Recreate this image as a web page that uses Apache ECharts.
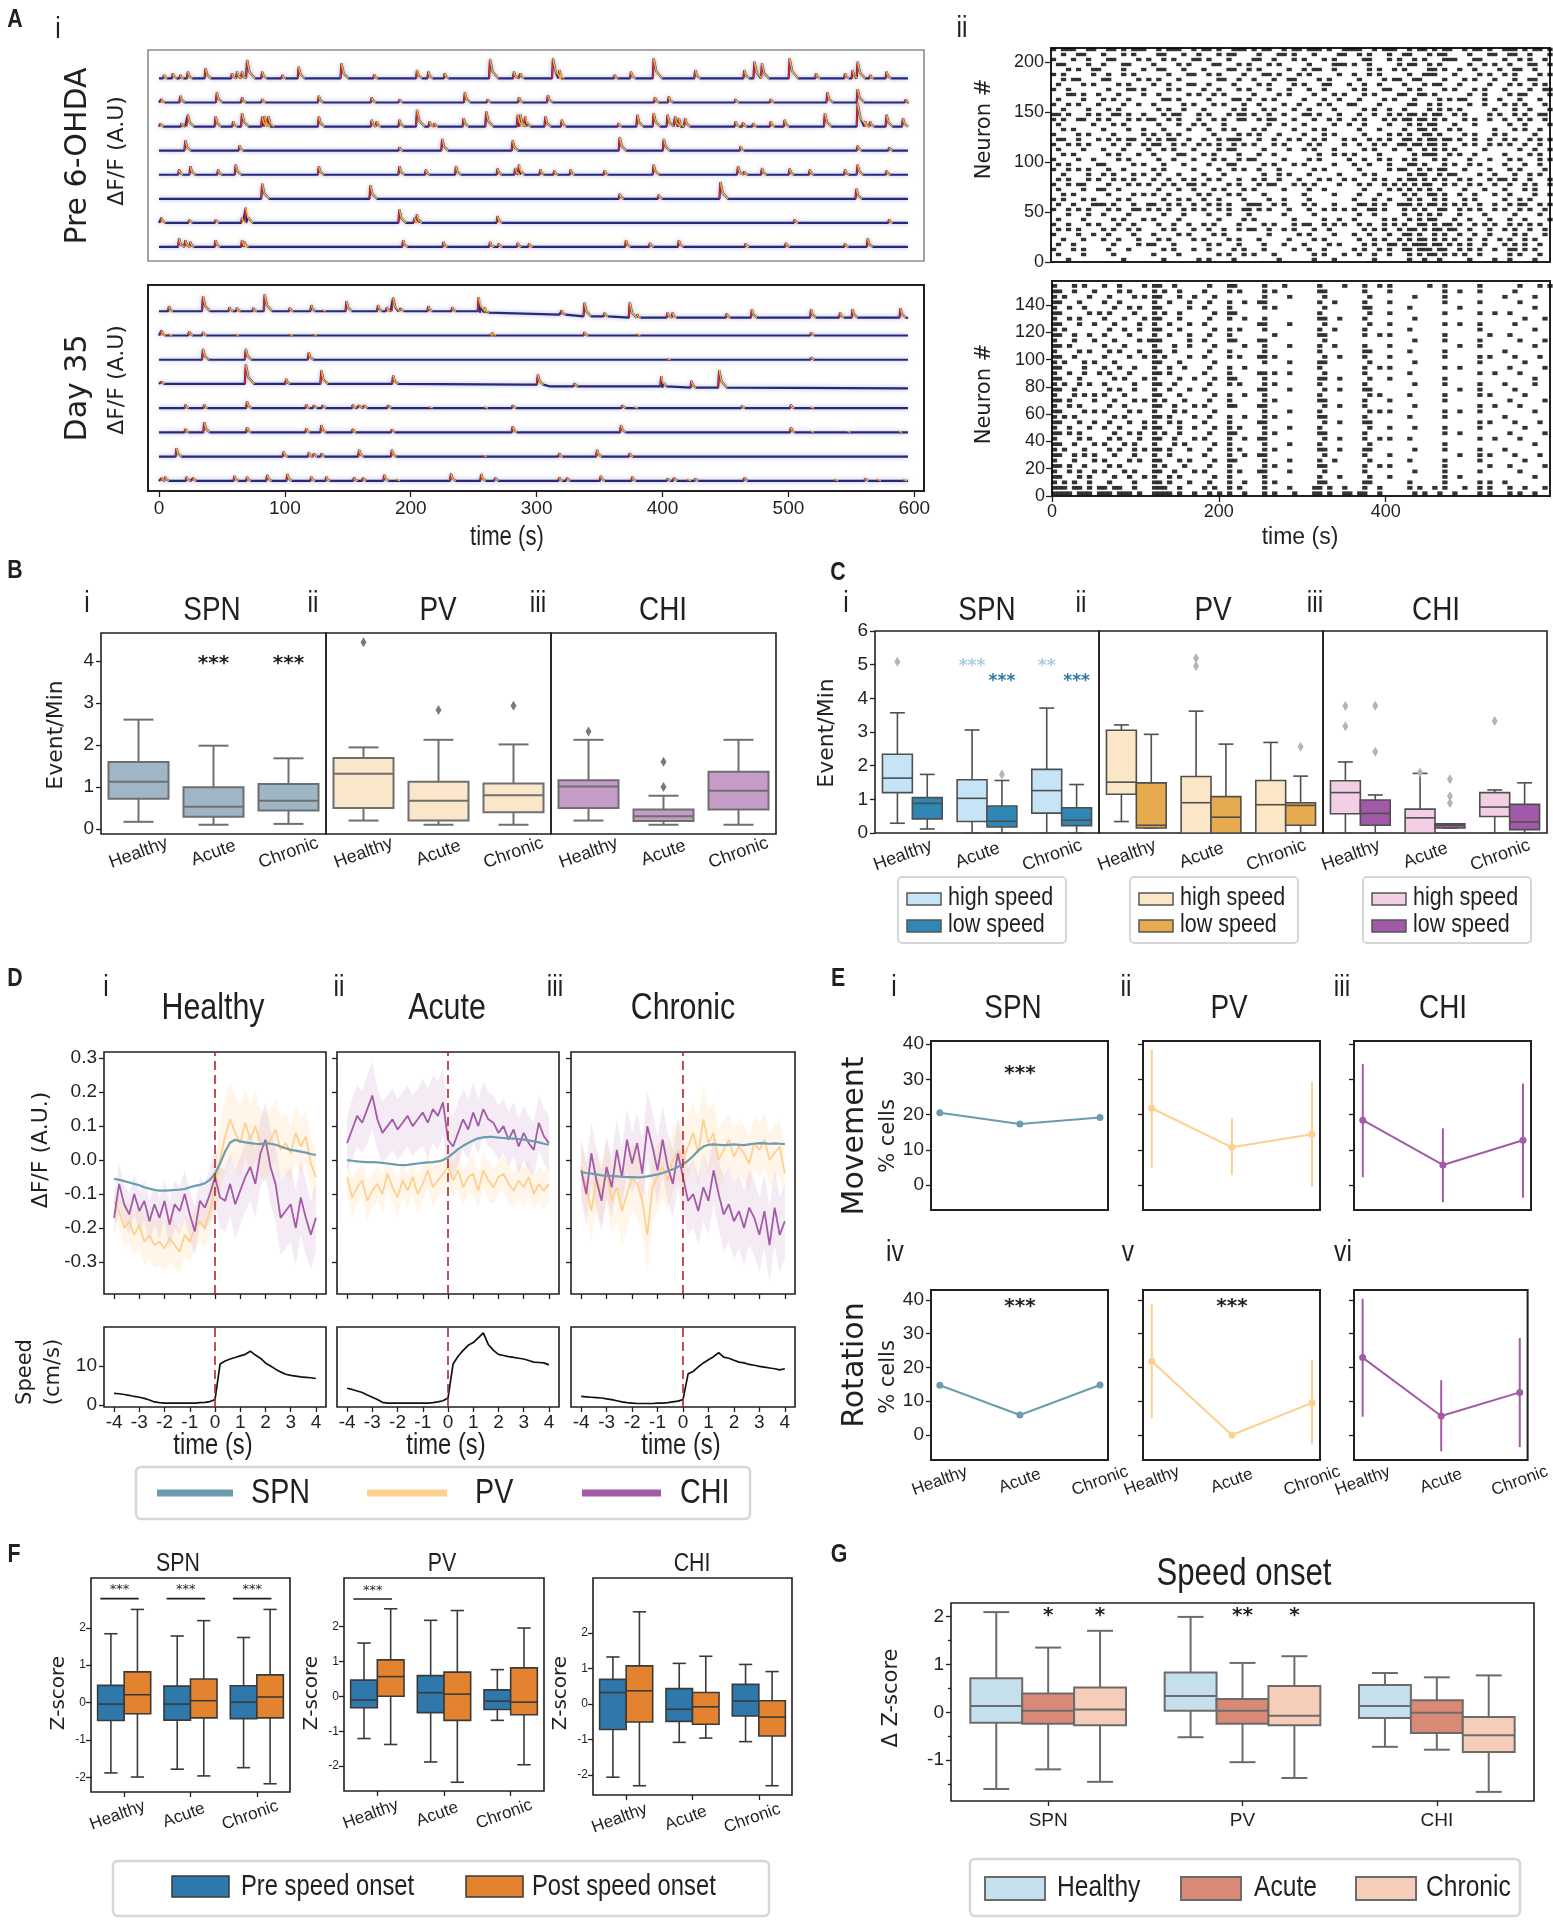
<!DOCTYPE html>
<html>
<head>
<meta charset="utf-8">
<title>Striatal activity figure</title>
<script src="https://cdn.jsdelivr.net/npm/echarts@6.0.0/dist/echarts.min.js"></script>
<style>
  html, body { margin: 0; padding: 0; background: #fff; }
  #fig { width: 1553px; height: 1920px; }
</style>
</head>
<body>
<div id="fig"></div>
<script>
// ---------- fonts / colours ----------
var FN = '"Liberation Sans", Arial, sans-serif';   // drawn narrow with scaleX for titles
var FW = '"DejaVu Sans", Verdana, sans-serif';
var FA = '"Liberation Sans", Arial, sans-serif';
var NARROW = 0.82;
var INK = '#231f20';
var SPN_C = '#6c9cad', PV_C = '#fdd08f', CHI_C = '#a35aa7';
var NAVY = '#272a7c', SPIKE_RED = '#e3261b', SPIKE_ORG = '#f7b22b';

var CATS = ['Healthy', 'Acute', 'Chronic'];
var CELLS = ['SPN', 'PV', 'CHI'];

// ---------- A i : calcium traces, spikes as [time s, height] ----------
var PRE_1 = [[4,10],[11,15],[17,10],[23,20],[37,30],[58,15],[62,20],[66,20],[70,55],[82,20],[98,10],[111,35],[145,45],[171,12],[205,25],[214,20],[227,15],[263,58],[282,20],[287,15],[313,60],[318,25],[362,10],[375,20],[393,60],[426,25],[465,25],[473,50],[479,45],[501,60],[522,15],[545,15],[551,25],[555,50],[565,10],[578,20]];
var PRE_2 = [[2,10],[17,20],[46,30],[66,15],[82,10],[127,20],[169,15],[191,8],[243,30],[261,8],[286,15],[309,22],[394,15],[405,18],[458,10],[486,10],[531,30],[555,40],[593,8]];
var PRE_3 = [[1,8],[18,10],[23,35],[45,30],[59,15],[66,40],[82,30],[84,30],[87,30],[127,30],[169,20],[173,15],[191,20],[205,50],[215,15],[219,10],[242,25],[260,45],[285,35],[287,35],[291,30],[307,30],[320,20],[365,10],[380,35],[393,40],[404,35],[410,30],[413,25],[418,25],[458,15],[464,12],[472,10],[486,15],[497,20],[529,40],[555,70],[561,15],[565,15],[578,35],[591,25]];
var PRE_4 = [[21,30],[64,15],[191,10],[225,35],[281,30],[366,40],[401,35],[462,12],[555,15],[580,8]];
var PRE_5 = [[16,15],[25,25],[47,15],[61,30],[127,25],[191,25],[212,15],[236,25],[269,18],[283,20],[286,30],[303,15],[314,12],[327,15],[354,12],[393,30],[460,25],[465,10],[479,20],[501,18],[517,15],[545,15],[555,30],[578,12]];
var PRE_6 = [[82,45],[168,40],[366,15],[397,12],[446,50],[554,30]];
var PRE_7 = [[2,15],[24,8],[45,8],[66,15],[69,45],[191,40],[203,15],[205,25],[269,20],[505,10],[580,10]];
var PRE_8 = [[16,25],[21,20],[25,15],[45,20],[66,20],[68,15],[194,20],[226,15],[263,15],[270,10],[285,12],[294,10],[371,20],[390,12],[413,20],[466,10],[498,12],[545,10],[563,25]];

var DAY_1 = [[8,15],[35,45],[56,12],[62,10],[75,10],[84,50],[104,10],[121,18],[130,5],[149,30],[174,18],[181,12],[186,40],[192,8],[214,15],[233,12],[254,42],[259,15],[320,12],[338,40],[354,10],[374,45],[380,10],[404,15],[408,15],[451,12],[471,25],[518,25],[541,15],[551,25],[589,28]];
var DAY_1_DRIFT = [[0,0],[190,0],[255,-4],[318,-10],[338,-15],[374,-19],[595,-20]];
var DAY_2 = [[2,15],[8,5],[24,12],[35,10],[61,4],[104,4],[123,4],[263,5],[265,8],[338,10],[380,5],[518,8]];
var DAY_3 = [[35,32],[69,32],[119,22],[404,4],[518,6]];
var DAY_4 = [[2,6],[69,58],[101,15],[129,40],[186,25],[301,30],[330,8],[399,30],[423,20],[445,52]];
var DAY_4_DRIFT = [[0,0],[290,-2],[310,-7],[400,-11],[595,-13]];
var DAY_5 = [[21,10],[36,10],[70,20],[117,10],[123,8],[130,8],[154,10],[159,8],[163,8],[182,8],[215,5],[259,4],[281,8],[368,8],[378,4],[463,6],[502,10],[518,4]];
var DAY_6 = [[21,10],[36,30],[70,15],[117,12],[129,22],[154,10],[185,8],[281,18],[367,22],[502,15],[518,4],[547,4],[588,4]];
var DAY_7 = [[14,25],[99,15],[119,12],[123,8],[129,8],[159,20],[185,20],[258,4],[318,10],[348,20],[374,10]];
var DAY_8 = [[2,8],[5,12],[22,12],[27,8],[60,15],[70,12],[86,18],[102,20],[121,12],[133,12],[155,10],[162,8],[179,18],[189,5],[232,22],[256,20],[267,8],[318,10],[324,8],[351,15],[376,12],[404,6],[409,8],[420,5],[426,6],[465,8],[537,5],[561,6],[571,5],[592,4]];
var TRACE_STEP = 72;
var A_TIME_TICKS = [0, 100, 200, 300, 400, 500, 600];

// ---------- A ii : rasters, one row per neuron block (top row first), one char per 6 s bin ----------
var RASTER_TOP = [
"#.###..##. .##.#.###. .#.###..#. ##.#..###. #.##..#.## .###.#..## ##..#.###. .#.##.#.## ..#.##.#.. ###.#.##.#",
"..#..##... #...#.#... .##...#..# ...#.##... .#...##.#. ..#....##. .#.#...#.. ##...#.##. ...#...##. .##..#...#",
"#...#..#.. .##....#.# ..#.#...## .#...#.... ##..#...#. #...#.#... ..##...#.# ..#.#...## #...##.... #..#.#..#.",
".##....#.. #...##.... #....#.#.. ..##...#.# ...#.#.... .#....###. #..#.....# .##..#.#.. ...#..#.#. .#...##..#",
"...#.#..## ....#...#. .##...#... #....##..# .#.....#.. #.##..#... ...#.#..#. #....##.#. .#..#....# ..##..#...",
"#.#.....#. .#..#.#... ...#...##. .#.#....#. ..##.#...# .#.....#.. #..#.#.... .#..###... #....#.#.. #.#....#.#",
"..#.##.... ##.....#.# .#...#.... ...##..#.. #...#..##. ...#.#.... .#....#.## ..##....#. ..#.#...#. ..#..##...",
".#....#.#. ...#.#.... #..#...##. .#....#... .#.#....#. #...##...# ..#..#.... #...#.##.. .#.....#.. .#.#..#.#.",
"#..#...... .#...##.#. ...#.#.... #..#...#.# ...#...#.. .#..#..... #.#...##.. .#.#....#. #...#.#... #....#..##",
"...##.#..# ...#....#. .#.....#.# ..#.#..... #....#.#.. ..#...#.#. ..#.#....# #..##.#... ...#..#... .#.##....#",
".#....#... #.#..#.... ..##.#.... .#....##.# ..#.#..... #...#..#.. .#....#.#. ..#....#.# .##...#..# ...#...#..",
"#..#.#...# ....#..#.. #.....#.#. ..#.#...#. .#....#..# ...#.#...# #....#.... .##..#.#.. ...#..#... #.#.#...#.",
"..#....#.. .#.#...... .#.#..#... #.....#.#. ..#.#...#. .#....#... ..#.#..#.. #....#.#.# .#......#. ..#..#...#",
"##.#...#.# ..##.#..#. ..#.##...# .#...#.##. #..#..#... ##.#...#.. .#..#..#.# .##.#.##.. #.#....#.# ..#.#..##.",
"#.#..##..# .#...#.#.# #..#.#...# ..#.#..##. .#.##...#. ..#..#.#.. #.#...#.#. ##.##.#.#. ..#.#..#.. #..#.#..#.",
".#......#. ..#.#..... .#...#..#. #...#..... ...#..#... #.....#..# ..#....#.. .#.#.##... #...#..... .#..#....#",
"..#.#..... #....#..#. ..#....#.. .#..#.#... #.#.....#. ..#.#..... .#...#.... #..##.#..# .#......#. ..#.#..#..",
"#....#.#.. ..#.....#. #..#.#.... ..#....#.# .#...#.... #...#.#... ..#....#.# .#..##.#.. ..#.#...#. #.....#...",
".##..#...# .#.#.##..# .#.##..#.. #..#.###.. .#..#..#.# ..#.#...#. #..#.#.#.. ##.#.##.## .#..#..#.. #.#..#.#.#",
"#..#.#.#.. ..#..#..#. ##..#.#..# .#.#..#.#. #...#.#... .#.#....#. .#..#.#..# #.##.##.#. ..#.#..#.# .#..#..#..",
".#....#... #...#....# ..#.#...#. ...#.##... ..#....#.. #.#...#... ..#.#...#. .#..#.#.#. #.....#... ...#..#..#",
"..#.#..... .#.#...#.. #....##... #.#....#.. .#..#..... ...#..#.#. #....#.... ..#.###..# .#..#..... #....#.#..",
"#....#..#. ...#.#.... .#..#...#. ..#.#..#.# #.....#... .#.#.....# ..#..#.#.. #.#...#.#. ...#...#.. .#.#...#.#",
".#.#.....# #.....#.#. ..#...#... .#...##... ..#.#...#. #.....#... #..#...#.. .##.#...#. #..#.#.... #...#..#..",
"#..#.#.#.. .#..#..... #.#.....#. ...#..#.#. .#...#.... ..#.#..... .#.....#.# #..#.#.##. ..#....#.. .#.#....#.",
"..#....#.. #.#...#.#. .#...#.... #...#..... ..#..#.#.. .#.....#.. ..#.#..... .#.##..#.# #....#..#. ..#..#.#..",
".#.#...#.# ..#.#.#... #..#..#.#. .#.#...#.. #.#..#...# ...#.#..#. #...#.#..# .##.#.#.#. .#.#...#.# #.#..#...#",
"#..#.##... .#...#.#.# ..#.#..##. #....#.#.. .#.##...#. #.#....#.. .#.#..#.#. #.#.##..#. #..#.#..#. .#..#.#..#",
".#....#..# #..#...... .#...#..#. ..#.#...#. #.....#... .#..#..... ..#....#.# .#.#.#.#.. ..#...#... #...#.#...",
"..#.#..... .#....#.#. #..#.....# .#...#.#.. ..#....... #.....#... .#...#.... #.#..##.#. .#..#...#. .#....#..#",
"#.#...#.#. ...#.#.... ..#..#.#.. #..#....#. ...#..#... .#........ #...#..#.. .#.#..#.#. ..#.#..... #..#.#....",
".#..#...## #.#...#..# #..#.#..#. .#.#.#...# ##..#.#... #.#...#... .##.#.#..# ##.#.##.#. #.#..#..#. .#.##..#.#",
"#..#.#.#.. .#.#..##.# .#.#..#.#. #..#.#..## .#.#...#.. .#..#.#.#. #..##.#... #.#.#..##. .#.#.#..#. #..#.#..#.",
"...#...#.. #....#.... ..#...#... .#...#...# ......#... ..#....... .#..#..... #..#.#.#.. .#....#... ..#....#..",
".#....#... ..#.#...#. #....#.... ...#....#. #.......#. ....#..#.. #.....#.#. .#.#.##... #..#...#.. .#..#....#",
"#..#...#.# ...#..#... .#..#..#.. #.#....#.. ..#.#...#. ##..#.#.#. .#.#..#.#. #..##.#.## .#..#.#.#. .#.#.#.#..",
".#.#.#.... #.#..#.#.. ..#.#...#. .#..#..#.# #..#..#.#. ..#..#.... ..#.#.#..# .##.#.##.# #..#...#.. #.#..#..#.",
"#....#..#. .#....#... #....#.#.. ..#.#..... ...#.....# .#....#... #..#...#.. ##.#..#.#. .#..#..#.. ..#.#...#.",
"..#...#... #..#...#.. .#.#....#. #....#.#.. .#.....#.. ..#.#..... .#..#.#..# .#.##.#.#. #..#..#..# .#..#.#...",
".#..#..... ..#....#.# #...#..... .#.#...#.. ..#...#... #....#.#.. ..#.#..##. #.###.##.# .#.#..#... #.#.#..#..",
"#...#.#... .#...#.... ..#.#...#. .#....#.#. ..#.....#. .#..#..... #.#..#.#.. ##.###.##. .#.#.#..#. .##.#.#...",
".#....#... ..#....... #....#.... ...#.#..#. #...#..... ..#.#...#. .#..#..#.. .#.#.##.#. #.#..#.... .#.#...#..",
"...#...... ....#..... ..#......# .#....#... .....#.... ..#...#... ....#..... .#..#..#.. ...#....#. .#....#..."
];
var RASTER_BOTTOM = [
"##.#...#.# .##..#.#.. #.#...#.#. ...#.#.#.. .##.#..... ...#..#... ..##...... ..#....... .#...#.... .#..#.#...",
"#...#.#... #..#....#. ##..#..... .#...##... ..#...#... ...#....#. ..#..#.#.. .....#..#. .....#.... ...#...#.#",
"##..#...#. ...#.#.... #.#..#.... #....#.#.. ..#.#..... ...##..... ..#....#.. ........#. .#...#.... ..#.......",
"#.#....#.. .#....#.#. ##...#..#. ..#....... ..#....#.. ....#..... ...#...... ..#.....#. .......... #.....#...",
"##...#.... #..#...... #..#...#.. .#...#..#. .##....... ...#..#... ..#....#.. ........#. .....#.... ...#......",
"#..#..#... ..#..#.#.. ##.....#.. #....#.... ..#.#..... ....#..... ..##...... .#........ .#........ ......#...",
"##.....#.# .#....#... #.#..#.... ..#..##... .......... ...#...... ...#...#.. ........#. .....#..#. .#........",
"#..#.#.... #...#...#. ##...#.... .#...#..#. ..#....... ...##..#.. ..#....... ..#....... .......... ....#...#.",
"##...#..#. ..#....#.. #..#...#.. #......... .##....#.. ....#..... ...#...#.. ........#. .#...#.... ..#.......",
"#.#....... .#..#..#.. ##...#.... ..#..#.#.. ..#....... ...#..#... ..#....... .#........ .....#.... ......#...",
"##..#..#.. #....#.... #..#...#.. .#...#.... ....#..... ...##..... ..#..#.#.. ........#. .......#.. .#........",
"#...#...#. ..#....#.# ##.....#.. #....##... .##....... ....#..... .......... ..#.....#. .....#.... ...#....#.",
"##.#...... #...#..... #...#..#.. ..#.....#. ..#....#.. ...#..#... ..#....#.. .......... .#...#.... ......#...",
"#....#.#.. .#.#...#.. ##..#..... .#...#.... ..#....... ...#...... ..##...... .#......#. .......... #.........",
"##..#..... #....#..#. #.#....#.. #....#.#.. .##.#..... ....#..#.. ..#....#.. ........#. .....#.#.. ..#....#..",
"#.#...#.#. ..#....... ##...#.... ..#....... ..#....#.. ...##..... ...#...... ..#....... .....#.... ....#.....",
"##....#... #..#..#... #..#..#... .#...#..#. .......... ...#...... ..#..#.#.. ........#. .#........ .#......#.",
"#..#..#..# .#...#.... ##.#...... #....#.... .##.#..#.. ....#..... ..#....... .#........ .....#..#. ...#......",
"##...#.... ..#.#...#. #....#..#. ..#..##... ..#....... ...##..#.. ...#...#.. ........#. .......... ......#...",
"#.#..#.#.. #.....#... ##..#..... .#...#.#.. ..#.#..... ...#...... ..#....... ..#.....#. .....#.... #.....#...",
"##..#..... .#.#..#... #..#...#.. #......... .##....#.. ....#..#.. ..##...... .......... .#...#.... ..#.......",
"#...#.#.#. #...#..... ##...#.... ..#..#..#. ..#....... ...#...... ...#.#.... .#......#. .....#.#.. ....#.....",
"##.#....#. ..#...#.#. #.#...#... .#...#.... ..#.#..... ...##..... ..#....#.. ........#. .......... .#......#.",
"#..#.#.... .#..#..... ##..#...#. #....##... .##....... ....#..#.. ..#....... ..#....... .....#..#. ...#......",
"##....#.#. #....#.#.. #...#.#... ..#....... ..#....#.. ...#...... ...#.#.#.. ........#. .#...#.... ......#...",
"#.#.#..... ..#.#..... ##.#....#. .#...#..#. ..#.#..... ...##..... ..#....... .#......#. .......... #.........",
"##...#..#. .#...#..#. #..#.#.... #....#.... .##....... ....#..#.. ..##...... .......... .....#.#.. ..#....#..",
"#..#...#.. #..#....#. ##...#..#. ..#..#.#.. ..#....#.. ...#...... ...#...#.. ..#.....#. .....#.... ....#.....",
"##.#.#.... ..#..#.#.. #.#..#.... .#...##... ..#.#..... ...##..... ..#....... ........#. .#........ .#......#.",
"#....#.#.. .#.#...#.. ##..#...#. #....#..#. .##....... ....#..#.. ..#..#.#.. .#........ .....#..#. ...#......",
"##..#...#. #...#.#... #...#.#... ..#..#.... ..#....#.. ...#...... ...#...... ........#. .......... ......#...",
"#.#...#... .#.#..#.#. ##.#...#.. .#...#.#.. ..#.#..... ...##..#.. ..##...... ..#.....#. .....#.... #.........",
"##..#.#.#. ..#...#... #..#...... #....#..#. .##....... ....#..... ..#....#.. .......... .#...#.#.. ..#....#..",
"#...#...#. #....#.#.. ##...#.#.. ..#..##... ..#....#.. ...#..#... ...#...... .#......#. .....#.... ....#.....",
"##.#..#... .#.#...... #.#...#... .#...#.... ..#.#..... ...##..... ..#..#.#.. ........#. .......#.. .#......#.",
"#..#.#..#. #...#.#... ##..#...#. #....#.#.. .##....#.. ....#..... ..#....... ..#.....#. .....#.... ...#......",
"##...#.#.. ..#..#..#. #..#.#.... ..#..#.... ..#....... ...#...#.. ...#...#.. ........#. .#........ ......#...",
"#.#.#..#.. .#....#... ##.#...#.. .#...#..#. ..#.#..... ...##..... ..##...... .#......#. .....#.#.. #.........",
"###.##.#.# #.##..#... ###..#.... #.#..#.#.. ..#....#.. ..##.#..#. ..#..#.... .#.#..#.#. ..#..#.#.. .#..#...#.",
"####.###.# ##.###.#.. ####.#..#. .#.#.#..#. ..#.#...#. ..##.#..## .##..#.... ..#.#..#.. #....#.#.. .#.#..#..."
];
var RASTER_BIN_S = 6;
var NEURON_TICKS_TOP = [0, 50, 100, 150, 200];
var NEURON_TICKS_BOTTOM = [0, 20, 40, 60, 80, 100, 120, 140];

// ---------- B : events / min  [min, q1, median, q3, max] ----------
var B_SPN = [[0.17,0.72,1.12,1.59,2.60],[0.10,0.29,0.53,0.99,1.98],[0.12,0.44,0.67,1.07,1.68]];
var B_PV  = [[0.20,0.50,1.31,1.69,1.94],[0.10,0.20,0.67,1.12,2.12],[0.10,0.40,0.80,1.08,2.01]];
var B_CHI = [[0.20,0.50,1.01,1.16,2.12],[0.10,0.19,0.30,0.46,0.79],[0.10,0.46,0.91,1.36,2.12]];
var B_OUT_SPN = [];
var B_OUT_PV  = [[0,4.44],[1,2.83],[2,2.93]];
var B_OUT_CHI = [[0,2.32],[1,1.60],[1,1.00]];
var B_STARS_SPN = [[1,3.92,'***'],[2,3.92,'***']];

// ---------- C : high / low speed ----------
var C_SPN_HI = [[0.29,1.20,1.63,2.34,3.57],[0,0.34,1.03,1.58,3.06],[0,0.59,1.26,1.89,3.71]];
var C_SPN_LO = [[0.12,0.42,0.88,1.05,1.74],[0,0.18,0.35,0.80,1.56],[0,0.22,0.38,0.75,1.44]];
var C_PV_HI  = [[0.34,1.15,1.51,3.05,3.21],[0,0,0.90,1.68,3.62],[0,0,0.84,1.56,2.69]];
var C_PV_LO  = [[0.15,0.15,0.23,1.49,2.93],[0,0,0.47,1.08,2.64],[0,0.23,0.82,0.90,1.69]];
var C_CHI_HI = [[0,0.57,1.20,1.55,2.11],[0,0,0.45,0.71,1.77],[0,0.49,0.77,1.20,1.28]];
var C_CHI_LO = [[0,0.23,0.58,0.98,1.13],[0.15,0.15,0.23,0.27,0.27],[0,0.10,0.33,0.85,1.49]];
var C_OUT_SPN_HI = [[0,5.09]];
var C_OUT_SPN_LO = [[1,1.74]];
var C_OUT_PV_HI  = [[1,5.19],[1,4.96]];
var C_OUT_PV_LO  = [[2,2.56]];
var C_OUT_CHI_HI = [[0,3.77],[0,3.17],[1,1.80],[2,3.33]];
var C_OUT_CHI_LO = [[0,3.78],[0,2.41],[1,1.60],[1,1.09],[1,0.89]];
var C_STARS_HI = [[1,4.94,'***'],[2,4.94,'**']];
var C_STARS_LO = [[1,4.51,'***'],[2,4.51,'***']];

// ---------- D : onset-aligned dF/F and speed ----------
var TIME_D = [-4,-3.8,-3.6,-3.4,-3.2,-3,-2.8,-2.6,-2.4,-2.2,-2,-1.8,-1.6,-1.4,-1.2,-1,-0.8,-0.6,-0.4,-0.2,0,0.2,0.4,0.6,0.8,1,1.2,1.4,1.6,1.8,2,2.2,2.4,2.6,2.8,3,3.2,3.4,3.6,3.8,4];
var D_H_SPN = [-0.055,-0.058,-0.062,-0.066,-0.070,-0.074,-0.080,-0.084,-0.088,-0.090,-0.090,-0.089,-0.088,-0.087,-0.085,-0.080,-0.076,-0.073,-0.068,-0.058,-0.040,-0.010,0.025,0.052,0.060,0.055,0.052,0.050,0.048,0.047,0.050,0.048,0.045,0.040,0.035,0.030,0.028,0.025,0.022,0.018,0.015];
var D_H_PV  = [-0.12,-0.15,-0.20,-0.18,-0.22,-0.19,-0.24,-0.22,-0.25,-0.24,-0.26,-0.23,-0.25,-0.27,-0.22,-0.24,-0.20,-0.18,-0.20,-0.15,-0.08,0.00,0.07,0.12,0.08,0.05,0.11,0.06,0.10,0.05,0.04,0.06,0.09,0.03,0.05,0.02,0.08,0.04,0.07,-0.01,-0.05];
var D_H_CHI = [-0.17,-0.07,-0.13,-0.16,-0.10,-0.15,-0.12,-0.18,-0.13,-0.17,-0.12,-0.19,-0.13,-0.15,-0.10,-0.16,-0.21,-0.12,-0.14,-0.10,-0.05,-0.11,-0.12,-0.07,-0.13,-0.09,-0.05,-0.02,-0.07,0.02,0.06,-0.02,-0.07,-0.17,-0.15,-0.13,-0.20,-0.11,-0.17,-0.22,-0.17];
var D_A_SPN = [0.000,-0.002,-0.004,-0.005,-0.006,-0.006,-0.007,-0.008,-0.010,-0.012,-0.014,-0.015,-0.014,-0.012,-0.010,-0.008,-0.007,-0.006,-0.004,0.000,0.008,0.020,0.032,0.042,0.050,0.058,0.064,0.067,0.068,0.068,0.066,0.065,0.064,0.063,0.062,0.060,0.058,0.055,0.052,0.048,0.045];
var D_A_PV  = [-0.05,-0.11,-0.08,-0.06,-0.12,-0.09,-0.07,-0.10,-0.04,-0.08,-0.11,-0.06,-0.09,-0.05,-0.10,-0.07,-0.03,-0.08,-0.06,-0.04,-0.02,-0.06,-0.03,-0.08,-0.05,-0.04,-0.09,-0.03,-0.06,-0.08,-0.05,-0.04,-0.07,-0.09,-0.06,-0.08,-0.05,-0.10,-0.07,-0.09,-0.07];
var D_A_CHI = [0.05,0.09,0.13,0.11,0.15,0.19,0.12,0.08,0.10,0.12,0.09,0.11,0.13,0.10,0.12,0.14,0.11,0.15,0.13,0.17,0.06,0.04,0.08,0.12,0.09,0.14,0.10,0.15,0.12,0.11,0.08,0.10,0.06,0.09,0.04,0.08,0.05,0.03,0.11,0.07,0.05];
var D_C_SPN = [-0.035,-0.038,-0.040,-0.042,-0.045,-0.046,-0.047,-0.048,-0.049,-0.050,-0.050,-0.051,-0.050,-0.048,-0.045,-0.042,-0.038,-0.033,-0.027,-0.020,-0.012,-0.002,0.012,0.028,0.040,0.045,0.046,0.045,0.044,0.045,0.046,0.045,0.044,0.046,0.048,0.050,0.049,0.048,0.049,0.048,0.047];
var D_C_PV  = [-0.02,-0.08,-0.15,-0.05,-0.10,-0.03,-0.12,-0.08,-0.15,-0.10,-0.05,-0.07,-0.12,-0.22,-0.08,-0.05,-0.02,-0.06,0.00,0.03,0.00,0.04,0.08,0.02,0.12,0.05,0.08,0.00,0.03,0.06,0.01,0.04,0.02,-0.01,0.05,0.03,0.06,0.00,0.02,0.04,-0.04];
var D_C_CHI = [-0.03,-0.10,0.02,-0.06,-0.12,-0.02,-0.08,0.03,-0.05,0.06,-0.01,0.05,-0.04,0.10,0.04,-0.03,0.06,-0.02,-0.07,0.02,-0.05,-0.12,-0.10,-0.15,-0.08,-0.12,-0.03,-0.10,-0.16,-0.13,-0.18,-0.15,-0.20,-0.14,-0.17,-0.22,-0.15,-0.25,-0.14,-0.22,-0.18];
// SEM of the noisy traces
var S_H_PV  = [0.05,0.05,0.06,0.06,0.06,0.07,0.07,0.07,0.07,0.07,0.07,0.07,0.07,0.06,0.06,0.06,0.06,0.06,0.06,0.07,0.08,0.10,0.11,0.11,0.11,0.11,0.10,0.10,0.10,0.10,0.10,0.09,0.09,0.09,0.09,0.08,0.08,0.08,0.08,0.08,0.08];
var S_H_CHI = [0.06,0.06,0.06,0.06,0.06,0.06,0.06,0.06,0.06,0.06,0.06,0.07,0.07,0.07,0.07,0.07,0.07,0.07,0.07,0.08,0.08,0.09,0.09,0.09,0.10,0.10,0.10,0.10,0.10,0.10,0.11,0.11,0.11,0.11,0.11,0.11,0.11,0.11,0.11,0.10,0.10];
var S_A_PV  = [0.05,0.06,0.05,0.05,0.06,0.05,0.05,0.06,0.05,0.05,0.06,0.05,0.05,0.05,0.06,0.05,0.05,0.06,0.05,0.05,0.05,0.05,0.06,0.05,0.05,0.06,0.05,0.05,0.06,0.05,0.05,0.05,0.06,0.05,0.05,0.06,0.05,0.05,0.05,0.06,0.05];
var S_A_CHI = [0.08,0.09,0.09,0.09,0.10,0.10,0.09,0.09,0.09,0.09,0.09,0.09,0.09,0.09,0.09,0.10,0.10,0.10,0.10,0.10,0.09,0.09,0.09,0.09,0.09,0.09,0.08,0.08,0.08,0.08,0.08,0.08,0.08,0.08,0.08,0.08,0.08,0.08,0.08,0.08,0.08];
var S_C_PV  = [0.08,0.08,0.09,0.09,0.09,0.09,0.10,0.10,0.10,0.10,0.10,0.10,0.10,0.11,0.10,0.10,0.09,0.09,0.09,0.09,0.09,0.09,0.09,0.10,0.10,0.10,0.09,0.09,0.09,0.08,0.08,0.08,0.08,0.08,0.08,0.08,0.08,0.08,0.08,0.08,0.08];
var S_C_CHI = [0.09,0.09,0.09,0.09,0.09,0.09,0.09,0.09,0.09,0.09,0.09,0.09,0.10,0.10,0.10,0.10,0.10,0.10,0.10,0.10,0.10,0.10,0.10,0.10,0.10,0.10,0.10,0.10,0.11,0.11,0.11,0.11,0.11,0.11,0.11,0.11,0.11,0.11,0.11,0.11,0.11];
var SPEED_H = [3.0,2.9,2.7,2.5,2.2,2.0,1.7,1.3,0.8,0.6,0.5,0.5,0.5,0.5,0.5,0.5,0.5,0.6,0.7,0.9,1.4,10.5,11.3,11.8,12.2,12.6,13.0,13.8,12.8,12.0,10.8,10.0,9.2,8.5,7.9,7.6,7.4,7.2,7.1,7.0,6.8];
var SPEED_A = [4.3,4.0,3.6,3.2,2.6,2.0,1.4,0.7,0.5,0.5,0.5,0.5,0.5,0.5,0.5,0.5,0.5,0.6,0.8,1.1,1.8,10.5,12.5,14.0,15.3,16.0,17.2,18.5,15.5,14.0,13.0,12.7,12.4,12.2,12.0,11.8,11.4,11.0,10.9,10.8,10.3];
var SPEED_C = [2.2,2.1,2.0,1.9,1.8,1.6,1.4,1.1,0.8,0.6,0.5,0.4,0.4,0.4,0.4,0.5,0.5,0.6,0.8,1.0,1.4,8.0,8.6,9.8,10.8,11.6,12.4,13.4,12.3,12.0,11.5,11.0,10.8,10.4,10.2,9.9,9.7,9.5,9.3,9.0,9.3];
var D_TIME_TICKS = [-4,-3,-2,-1,0,1,2,3,4];
var DF_TICKS = [-0.3,-0.2,-0.1,0,0.1,0.2,0.3];

// ---------- E : % responsive cells, [mean] and [low, high] ----------
var E_MOV_SPN = [20.5, 17.3, 19.2];  var E_MOV_SPN_ERR = [[20.0,21.0],[16.8,17.8],[18.6,19.8]];
var E_MOV_PV  = [21.8, 10.7, 14.4];  var E_MOV_PV_ERR  = [[4.9,38.5],[2.8,18.9],[-0.5,29.3]];
var E_MOV_CHI = [18.4, 5.7, 12.7];   var E_MOV_CHI_ERR = [[2.2,34.4],[-4.9,16.1],[-3.6,28.8]];
var E_ROT_SPN = [14.7, 5.9, 14.8];   var E_ROT_SPN_ERR = [[14.2,15.2],[5.5,6.3],[14.3,15.3]];
var E_ROT_PV  = [21.8, 0.0, 9.5];    var E_ROT_PV_ERR  = [[4.9,38.8],[0,0],[-2.8,22.2]];
var E_ROT_CHI = [22.9, 5.6, 12.6];   var E_ROT_CHI_ERR = [[5.4,40.3],[-4.8,16.2],[-3.6,28.7]];
var E_TICKS = [0, 10, 20, 30, 40];

// ---------- F : z-score pre / post onset ----------
var F_SPN_PRE  = [[-1.88,-0.48,-0.04,0.46,1.84],[-1.78,-0.47,-0.04,0.44,1.78],[-1.74,-0.43,0.01,0.45,1.74]];
var F_SPN_POST = [[-1.99,-0.30,0.21,0.82,2.49],[-1.96,-0.41,0.05,0.63,2.19],[-2.17,-0.41,0.15,0.74,2.49]];
var F_PV_PRE   = [[-1.21,-0.33,-0.11,0.46,1.52],[-1.88,-0.47,0.10,0.59,2.17],[-0.69,-0.38,-0.14,0.18,0.76]];
var F_PV_POST  = [[-1.38,0.00,0.56,1.04,2.50],[-2.46,-0.69,0.06,0.69,2.45],[-1.96,-0.53,-0.17,0.81,1.95]];
var F_CHI_PRE  = [[-2.06,-0.72,0.32,0.69,1.32],[-1.08,-0.49,-0.15,0.43,1.14],[-1.06,-0.34,0.08,0.55,1.11]];
var F_CHI_POST = [[-2.30,-0.51,0.37,1.07,2.59],[-0.96,-0.57,-0.08,0.32,1.34],[-2.30,-0.90,-0.37,0.09,0.91]];
var F_SIG_SPN = [[0,2.78],[1,2.78],[2,2.78]];
var F_SIG_PV  = [[0,2.78]];
var F_SIG_CHI = [];
var Z_TICKS = [-2, -1, 0, 1, 2];

// ---------- G : delta z-score by condition ----------
var G_HEALTHY = [[-1.60,-0.22,0.13,0.71,2.09],[-0.52,0.03,0.34,0.83,1.99],[-0.72,-0.12,0.13,0.57,0.82]];
var G_ACUTE   = [[-1.19,-0.24,0.03,0.39,1.35],[-1.04,-0.24,0.03,0.28,1.03],[-0.78,-0.43,-0.01,0.25,0.73]];
var G_CHRONIC = [[-1.45,-0.27,0.06,0.52,1.70],[-1.37,-0.27,-0.07,0.55,1.17],[-1.66,-0.83,-0.48,-0.10,0.77]];
var G_STARS_ACUTE   = [[0,2.01,'*'],[1,2.01,'**']];
var G_STARS_CHRONIC = [[0,2.01,'*'],[1,2.01,'*']];

// =====================================================================
var grids = [], xAxes = [], yAxes = [], series = [], graphics = [];

function addGrid(l, t, w, h, border, bw) {
  grids.push({left: l, top: t, width: w, height: h, show: true, borderColor: border || INK,
    borderWidth: bw || 1.5, backgroundColor: 'transparent'});
  return grids.length - 1;
}
function pushX(a) { xAxes.push(a); return xAxes.length - 1; }
function pushY(a) { yAxes.push(a); return yAxes.length - 1; }

function vAxis(gi, min, max, o) {
  o = o || {};
  var lab = {show: !!o.labels, fontFamily: o.ff || FA, fontSize: o.fs || 19, color: INK, margin: o.m || 7};
  var lv = o.labelValues || o.ticks;
  if (lv) lab.customValues = lv;
  if (o.fmt) lab.formatter = o.fmt;
  if (o.rot) { lab.rotate = o.rot; lab.align = 'center'; lab.verticalAlign = 'middle'; }
  if (o.pad) lab.padding = o.pad;
  var tick = {show: !!o.ticks, length: o.tl || 5, lineStyle: {color: INK, width: 1.3}};
  if (o.ticks) tick.customValues = o.ticks;
  var a = {type: 'value', gridIndex: gi, min: min, max: max, axisLine: {show: false, onZero: false},
    splitLine: {show: false}, axisTick: tick, axisLabel: lab};
  if (o.pos) a.position = o.pos;
  return a;
}
function cAxis(gi, cats, o) {
  o = o || {};
  var lab = {show: !!o.labels, interval: 0, fontFamily: FA, fontSize: o.fs || 18, color: INK, margin: o.m || 8};
  if (o.rot) { lab.rotate = o.rot; lab.align = 'center'; lab.verticalAlign = 'middle'; }
  if (o.pad) lab.padding = o.pad;
  return {type: 'category', gridIndex: gi, data: cats, axisLine: {show: false, onZero: false}, splitLine: {show: false},
    axisTick: {show: !!o.tick, alignWithLabel: true, length: 5, lineStyle: {color: INK, width: 1.3}},
    axisLabel: lab};
}

// box plot drawn through the category / value scales
function boxSeries(xi, yi, rows, fill, edge, off, wf, lw) {
  lw = lw || 1.5;
  return {type: 'custom', xAxisIndex: xi, yAxisIndex: yi, z: 4, silent: true, clip: false,
    data: rows.map(function (r, i) { return [i, r[0], r[1], r[2], r[3], r[4]]; }),
    encode: {x: 0, y: [1, 2, 3, 4, 5]},
    renderItem: function (p, api) {
      var bw = api.size([1, 0])[0];
      var cx = api.coord([api.value(0), 0])[0] + off * bw;
      var w = wf * bw, cap = w * 0.25;
      var y = [1, 2, 3, 4, 5].map(function (d) { return api.coord([0, api.value(d)])[1]; });
      var ls = {stroke: edge, lineWidth: lw};
      return {type: 'group', children: [
        {type: 'line', shape: {x1: cx, y1: y[0], x2: cx, y2: y[1]}, style: ls},
        {type: 'line', shape: {x1: cx, y1: y[3], x2: cx, y2: y[4]}, style: ls},
        {type: 'line', shape: {x1: cx - cap, y1: y[0], x2: cx + cap, y2: y[0]}, style: ls},
        {type: 'line', shape: {x1: cx - cap, y1: y[4], x2: cx + cap, y2: y[4]}, style: ls},
        {type: 'rect', shape: {x: cx - w / 2, y: y[3], width: w, height: Math.max(y[1] - y[3], 0.5)},
          style: {fill: fill, stroke: edge, lineWidth: lw}},
        {type: 'line', shape: {x1: cx - w / 2, y1: y[2], x2: cx + w / 2, y2: y[2]}, style: ls}
      ]};
    }};
}
function outlierSeries(xi, yi, pts, color, off) {
  return {type: 'custom', xAxisIndex: xi, yAxisIndex: yi, z: 5, silent: true, data: pts, encode: {x: 0, y: 1},
    renderItem: function (p, api) {
      var bw = api.size([1, 0])[0];
      var c = api.coord([api.value(0), api.value(1)]);
      var x = c[0] + off * bw, y = c[1];
      return {type: 'polygon', shape: {points: [[x, y - 5], [x + 3, y], [x, y + 5], [x - 3, y]]}, style: {fill: color}};
    }};
}
function annotSeries(xi, yi, items, off, color, fs) {
  return {type: 'custom', xAxisIndex: xi, yAxisIndex: yi, z: 6, silent: true,
    data: items.map(function (d) { return [d[0], d[1]]; }), encode: {x: 0, y: 1},
    renderItem: function (p, api) {
      var bw = api.size([1, 0])[0];
      var c = api.coord([api.value(0), api.value(1)]);
      return {type: 'text', x: c[0] + off * bw, y: c[1],
        style: {text: items[p.dataIndex][2], fontSize: fs || 22, fontFamily: FW, fontWeight: 'bold', fill: color,
          align: 'center', verticalAlign: 'middle'}};
    }};
}
function sigSeries(xi, yi, items) {
  return {type: 'custom', xAxisIndex: xi, yAxisIndex: yi, z: 6, silent: true, data: items, encode: {x: 0, y: 1},
    renderItem: function (p, api) {
      var bw = api.size([1, 0])[0];
      var c = api.coord([api.value(0), api.value(1)]);
      var top = api.coord([api.value(0), api.value(1) + 0.25])[1];
      return {type: 'group', children: [
        {type: 'line', shape: {x1: c[0] - 0.36 * bw, y1: c[1], x2: c[0] + 0.22 * bw, y2: c[1]}, style: {stroke: INK, lineWidth: 1.6}},
        {type: 'text', x: c[0] - 0.07 * bw, y: top, style: {text: '***', fontSize: 13, fontFamily: FW, fill: INK, align: 'center', verticalAlign: 'middle'}}
      ]};
    }};
}
function bandSeries(xi, yi, t, m, s, color) {
  var data = t.map(function (tt, i) { return [tt, m[i] - s[i], m[i] + s[i]]; });
  return {type: 'custom', xAxisIndex: xi, yAxisIndex: yi, z: 1, silent: true, data: data, encode: {x: 0, y: [1, 2]},
    renderItem: function (p, api) {
      if (p.dataIndex !== 0) return null;
      var up = [], lo = [];
      data.forEach(function (d) { up.push(api.coord([d[0], d[2]])); lo.unshift(api.coord([d[0], d[1]])); });
      return {type: 'polygon', shape: {points: up.concat(lo)}, style: {fill: color}};
    }};
}
function meanLine(xi, yi, t, m, color, w) {
  return {type: 'line', xAxisIndex: xi, yAxisIndex: yi, z: 3, silent: true, showSymbol: false, symbol: 'none',
    data: t.map(function (tt, i) { return [tt, m[i]]; }), lineStyle: {color: color, width: w || 1.8}};
}
function onsetLine() {
  return {symbol: 'none', silent: true, label: {show: false}, data: [{xAxis: 0}],
    lineStyle: {color: '#b3262d', type: [9, 5], width: 1.6}};
}
function errSeries(xi, yi, errs, color) {
  return {type: 'custom', xAxisIndex: xi, yAxisIndex: yi, z: 3, silent: true,
    data: errs.map(function (e, i) { return [i, e[0], e[1]]; }), encode: {x: 0, y: [1, 2]},
    renderItem: function (p, api) {
      var a = api.coord([api.value(0), api.value(1)]), b = api.coord([api.value(0), api.value(2)]);
      return {type: 'line', shape: {x1: a[0], y1: a[1], x2: b[0], y2: b[1]}, style: {stroke: color, lineWidth: 2}};
    }};
}

// calcium trace: navy line + red rise + orange decay for each spike
function traceSeries(xi, yi, spikes, drift, off) {
  var dr = drift || [[0, 0], [595, 0]];
  var pts = [], red = [], org = [];
  function baseAt(t) { var b = dr[0][1]; dr.forEach(function (d) { if (d[0] <= t) b = d[1]; }); return off + b; }
  dr.forEach(function (d) { pts.push([d[0], off + d[1]]); });
  spikes.forEach(function (s) {
    var t = s[0], h = s[1], b = baseAt(t), d = 2 + h * 0.08;
    pts.push([t - 0.8, b], [t, b + h], [t + d * 0.3, b + h * 0.35], [t + d, b]);
    red.push([t - 0.8, b], [t, b + h], [t, '-']);
    org.push([t, b + h], [t + d * 0.3, b + h * 0.35], [t + d, b], [t + d, '-']);
  });
  pts.sort(function (a, b) { return a[0] - b[0]; });
  var base = {type: 'line', xAxisIndex: xi, yAxisIndex: yi, silent: true, symbol: 'none', z: 2};
  return [
    Object.assign({}, base, {data: pts, lineStyle: {color: NAVY, width: 2.2, shadowBlur: 4, shadowColor: 'rgba(100,110,190,0.55)'}}),
    Object.assign({}, base, {data: red, z: 3, lineStyle: {color: SPIKE_RED, width: 1.4}}),
    Object.assign({}, base, {data: org, z: 3, lineStyle: {color: SPIKE_ORG, width: 1.5}})
  ];
}
function rasterSeries(xi, yi, rows, perRow, dashH) {
  var data = [];
  rows.forEach(function (r, i) {
    var s = r.replace(/ /g, '');
    var block = rows.length - 1 - i;
    for (var c = 0; c < s.length; c++) {
      if (s.charAt(c) === '#') data.push([c * RASTER_BIN_S + RASTER_BIN_S / 2, block * perRow + perRow / 2]);
    }
  });
  return {type: 'scatter', xAxisIndex: xi, yAxisIndex: yi, silent: true, symbol: 'rect',
    symbolSize: [5.3, dashH], itemStyle: {color: '#000'}, data: data, z: 2};
}

// text; narrow (scaled) by default unless a wide font is requested
function txt(x, y, s, size, o) {
  o = o || {};
  var ff = o.ff || FN;
  var sx = o.sx || (ff === FN ? NARROW : 1);
  graphics.push({type: 'text', x: x, y: y, rotation: o.rot ? Math.PI / 2 : 0, scaleX: sx, z: 50, silent: true,
    style: {text: s, fontSize: size, fontFamily: ff, fontWeight: o.bold ? 'bold' : 'normal',
      fill: o.color || INK, align: o.align || 'center', verticalAlign: 'middle'}});
}
function rectG(x, y, w, h, fill, stroke, lw, r) {
  graphics.push({type: 'rect', z: 40, silent: true, shape: {x: x, y: y, width: w, height: h, r: r || 0},
    style: {fill: fill, stroke: stroke, lineWidth: lw || 0}});
}
function lineG(x1, y1, x2, y2, color, w) {
  graphics.push({type: 'line', z: 41, silent: true, shape: {x1: x1, y1: y1, x2: x2, y2: y2},
    style: {stroke: color, lineWidth: w}});
}
function catFmt(v) { return CATS[Math.round(v)]; }
function f1(v) { return v.toFixed(1); }

// ---------------- Panel A i ----------------
(function () {
  var g1 = addGrid(148, 50, 776, 211, '#8c8c8c', 1.6);
  var x1 = pushX(vAxis(g1, -8.7, 607.7));
  var y1 = pushY(vAxis(g1, -42, 589));
  var pre = [PRE_1, PRE_2, PRE_3, PRE_4, PRE_5, PRE_6, PRE_7, PRE_8];
  pre.forEach(function (sp, i) {
    series.push.apply(series, traceSeries(x1, y1, sp, null, (7 - i) * TRACE_STEP));
  });
  var g2 = addGrid(148, 285, 776, 206, INK, 2);
  var x2 = pushX(vAxis(g2, -8.7, 607.7, {ticks: A_TIME_TICKS, labels: true, fs: 19, tl: 6, m: 8}));
  var y2 = pushY(vAxis(g2, -30, 582));
  var day = [[DAY_1, DAY_1_DRIFT], [DAY_2], [DAY_3], [DAY_4, DAY_4_DRIFT], [DAY_5], [DAY_6], [DAY_7], [DAY_8]];
  day.forEach(function (d, i) {
    series.push.apply(series, traceSeries(x2, y2, d[0], d[1] || null, (7 - i) * TRACE_STEP));
  });
  txt(15, 20, 'A', 26, {bold: true, ff: FA});
  txt(58, 30, 'i', 30);
  txt(78, 156, 'Pre 6-OHDA', 30, {rot: true, ff: FW});
  txt(117, 151, 'ΔF/F (A.U)', 22, {rot: true, ff: FW});
  txt(78, 388, 'Day 35', 30, {rot: true, ff: FW});
  txt(117, 380, 'ΔF/F (A.U)', 22, {rot: true, ff: FW});
  txt(507, 538, 'time (s)', 27);
})();

// ---------------- Panel A ii ----------------
(function () {
  var g1 = addGrid(1051, 48, 499, 214, INK, 2);
  var x1 = pushX(vAxis(g1, 0, 597));
  var y1 = pushY(vAxis(g1, 0, 214, {ticks: NEURON_TICKS_TOP, labels: true, fs: 18, tl: 6}));
  series.push(rasterSeries(x1, y1, RASTER_TOP, 5, 3.4));
  var g2 = addGrid(1052, 281, 498, 215, INK, 2);
  var x2 = pushX(vAxis(g2, 0, 597, {ticks: [0, 200, 400], labels: true, fs: 18, tl: 6}));
  var y2 = pushY(vAxis(g2, 0, 157.6, {ticks: NEURON_TICKS_BOTTOM, labels: true, fs: 18, tl: 6}));
  series.push(rasterSeries(x2, y2, RASTER_BOTTOM, 4, 3.8));
  txt(962, 29, 'ii', 30);
  txt(985, 129, 'Neuron #', 21, {rot: true, ff: FW});
  txt(985, 394, 'Neuron #', 21, {rot: true, ff: FW});
  txt(1300, 538, 'time (s)', 23, {ff: FA, sx: 1});
})();

// ---------------- Panel B ----------------
(function () {
  var sets = [[B_SPN, '#9fb6c6', B_OUT_SPN], [B_PV, '#fae6c8', B_OUT_PV], [B_CHI, '#c49cc7', B_OUT_CHI]];
  sets.forEach(function (s, k) {
    var g = addGrid(101 + 225 * k, 633, 225, 201, INK, 1.6);
    var xi = pushX(cAxis(g, CATS, {labels: true, rot: 20, m: 19, fs: 18}));
    var yi = pushY(vAxis(g, -0.12, 4.66, k === 0 ? {ticks: [0, 1, 2, 3, 4], labels: true} : {}));
    series.push(boxSeries(xi, yi, s[0], s[1], '#6f6f6f', 0, 0.8, 2));
    series.push(outlierSeries(xi, yi, s[2], '#7a7a7a', 0));
    if (k === 0) series.push(annotSeries(xi, yi, B_STARS_SPN, 0, INK, 20));
  });
  txt(15, 571, 'B', 26, {bold: true, ff: FA});
  [['i', 87], ['ii', 313], ['iii', 538]].forEach(function (r) { txt(r[1], 604, r[0], 30); });
  [['SPN', 212], ['PV', 438], ['CHI', 663]].forEach(function (r) { txt(r[1], 611, r[0], 34); });
  txt(56, 735, 'Event/Min', 22, {rot: true, ff: FW});
})();

// ---------------- Panel C ----------------
(function () {
  var sets = [
    [C_SPN_HI, C_SPN_LO, '#c5e4f5', '#2e87b4', C_OUT_SPN_HI, C_OUT_SPN_LO],
    [C_PV_HI, C_PV_LO, '#fbe6c5', '#e6ab4e', C_OUT_PV_HI, C_OUT_PV_LO],
    [C_CHI_HI, C_CHI_LO, '#f2cfe5', '#a15aa8', C_OUT_CHI_HI, C_OUT_CHI_LO]
  ];
  sets.forEach(function (s, k) {
    var g = addGrid(875 + 224 * k, 631, 224, 202, INK, 1.6);
    var xi = pushX(cAxis(g, CATS, {labels: true, rot: 20, m: 19, fs: 18, pad: [0, 20, 0, 0]}));
    var yi = pushY(vAxis(g, 0, 6, k === 0 ? {ticks: [0, 1, 2, 3, 4, 5, 6], labels: true} : {}));
    series.push(boxSeries(xi, yi, s[0], s[2], '#4f4f4f', -0.2, 0.4, 1.6));
    series.push(boxSeries(xi, yi, s[1], s[3], '#4f4f4f', 0.2, 0.4, 1.6));
    series.push(outlierSeries(xi, yi, s[4], '#b4b4b4', -0.2));
    series.push(outlierSeries(xi, yi, s[5], '#b4b4b4', 0.2));
    if (k === 0) {
      series.push(annotSeries(xi, yi, C_STARS_HI, -0.2, '#a8cde2', 17));
      series.push(annotSeries(xi, yi, C_STARS_LO, 0.2, '#2c7aa3', 17));
    }
    var lx = [898, 1130, 1363][k];
    rectG(lx, 877, 168, 66, '#fff', '#d6d6d6', 2, 4);
    rectG(lx + 9, 893, 34, 12, s[2], '#555', 1.5);
    rectG(lx + 9, 920, 34, 12, s[3], '#555', 1.5);
    txt(lx + 50, 898, 'high speed', 25, {align: 'left', sx: 0.86});
    txt(lx + 50, 925, 'low speed', 25, {align: 'left', sx: 0.86});
  });
  txt(838, 573, 'C', 26, {bold: true, ff: FA});
  [['i', 846], ['ii', 1081], ['iii', 1315]].forEach(function (r) { txt(r[1], 604, r[0], 30); });
  [['SPN', 987], ['PV', 1213], ['CHI', 1436]].forEach(function (r) { txt(r[1], 611, r[0], 34); });
  txt(827, 733, 'Event/Min', 22, {rot: true, ff: FW});
})();

// ---------------- Panel D ----------------
(function () {
  var sets = [
    [D_H_SPN, D_H_PV, D_H_CHI, S_H_PV, S_H_CHI, SPEED_H],
    [D_A_SPN, D_A_PV, D_A_CHI, S_A_PV, S_A_CHI, SPEED_A],
    [D_C_SPN, D_C_PV, D_C_CHI, S_C_PV, S_C_CHI, SPEED_C]
  ];
  var lefts = [104, 337, 571], widths = [222, 222, 224];
  sets.forEach(function (s, k) {
    var gT = addGrid(lefts[k], 1052, widths[k], 242, INK, 1.6);
    var xT = pushX(vAxis(gT, -4.4, 4.4, {ticks: D_TIME_TICKS}));
    var yT = pushY(vAxis(gT, -0.394, 0.318, {ticks: DF_TICKS, labels: k === 0, fmt: f1}));
    series.push(bandSeries(xT, yT, TIME_D, s[1], s[3], 'rgba(253,208,143,0.2)'));
    series.push(bandSeries(xT, yT, TIME_D, s[2], s[4], 'rgba(163,90,167,0.12)'));
    series.push(meanLine(xT, yT, TIME_D, s[1], PV_C, 1.8));
    series.push(meanLine(xT, yT, TIME_D, s[2], CHI_C, 1.8));
    var sl = meanLine(xT, yT, TIME_D, s[0], SPN_C, 2.2);
    sl.markLine = onsetLine();
    series.push(sl);

    var gB = addGrid(lefts[k], 1327, widths[k], 80, INK, 1.6);
    var xB = pushX(vAxis(gB, -4.4, 4.4, {ticks: D_TIME_TICKS, labels: true, fs: 19, m: 6}));
    var yB = pushY(vAxis(gB, -0.5, 20, k === 0 ? {ticks: [0, 10], labels: true} : {}));
    var sp = meanLine(xB, yB, TIME_D, s[5], '#111', 1.7);
    sp.markLine = onsetLine();
    series.push(sp);
    txt(lefts[k] + widths[k] / 2 - 2, 1446, 'time (s)', 29);
  });
  txt(15, 979, 'D', 26, {bold: true, ff: FA});
  [['i', 106], ['ii', 339], ['iii', 555]].forEach(function (r) { txt(r[1], 988, r[0], 30); });
  [['Healthy', 213], ['Acute', 447], ['Chronic', 683]].forEach(function (r) { txt(r[1], 1009, r[0], 37); });
  txt(41, 1150, 'ΔF/F (A.U.)', 22, {rot: true, ff: FW});
  txt(26, 1372, 'Speed', 21, {rot: true, ff: FW});
  txt(54, 1372, '(cm/s)', 21, {rot: true, ff: FW});
  rectG(136, 1467, 614, 52, '#fff', '#d6d6d6', 2.5, 5);
  lineG(157, 1493, 233, 1493, SPN_C, 7);
  lineG(367, 1493, 447, 1493, PV_C, 7);
  lineG(582, 1493, 661, 1493, CHI_C, 7);
  txt(251, 1493, 'SPN', 35, {align: 'left'});
  txt(475, 1493, 'PV', 35, {align: 'left'});
  txt(680, 1493, 'CHI', 35, {align: 'left'});
})();

// ---------------- Panel E ----------------
(function () {
  var rows = [
    [[E_MOV_SPN, E_MOV_SPN_ERR, SPN_C, 31.7], [E_MOV_PV, E_MOV_PV_ERR, PV_C, null], [E_MOV_CHI, E_MOV_CHI_ERR, CHI_C, null]],
    [[E_ROT_SPN, E_ROT_SPN_ERR, SPN_C, 37.8], [E_ROT_PV, E_ROT_PV_ERR, PV_C, 37.8], [E_ROT_CHI, E_ROT_CHI_ERR, CHI_C, null]]
  ];
  var lefts = [931, 1143, 1354];
  rows.forEach(function (row, r) {
    row.forEach(function (s, k) {
      var g = addGrid(lefts[k], r === 0 ? 1041 : 1290, 177, r === 0 ? 169 : 170, INK, 2);
      var xi = pushX(vAxis(g, -0.11, 2.1, r === 1 ? {labels: true, labelValues: [0, 1, 2], fmt: catFmt, rot: 20, m: 21, fs: 17} : {}));
      var yi = pushY(vAxis(g, r === 0 ? -7.1 : -7.4, r === 0 ? 40.9 : 42.9, {ticks: E_TICKS, labels: k === 0}));
      series.push(errSeries(xi, yi, s[1], s[2]));
      series.push({type: 'line', xAxisIndex: xi, yAxisIndex: yi, z: 4, silent: true,
        data: s[0].map(function (v, i) { return [i, v]; }), symbol: 'circle', symbolSize: 7,
        itemStyle: {color: s[2]}, lineStyle: {color: s[2], width: 2}});
      if (s[3] !== null) series.push(annotSeries(xi, yi, [[1, s[3], '***']], 0, INK, 20));
    });
  });
  txt(838, 979, 'E', 26, {bold: true, ff: FA});
  [['i', 894], ['ii', 1126], ['iii', 1342]].forEach(function (r) { txt(r[1], 988, r[0], 30); });
  [['iv', 895], ['v', 1128], ['vi', 1343]].forEach(function (r) { txt(r[1], 1253, r[0], 30); });
  [['SPN', 1013], ['PV', 1229], ['CHI', 1443]].forEach(function (r) { txt(r[1], 1009, r[0], 34); });
  txt(855, 1136, 'Movement', 30, {rot: true, ff: FW});
  txt(889, 1136, '% cells', 21, {rot: true, ff: FW});
  txt(855, 1365, 'Rotation', 30, {rot: true, ff: FW});
  txt(889, 1377, '% cells', 21, {rot: true, ff: FW});
})();

// ---------------- Panel F ----------------
(function () {
  var sets = [
    [F_SPN_PRE, F_SPN_POST, F_SIG_SPN, -2.39, 3.33, 214],
    [F_PV_PRE, F_PV_POST, F_SIG_PV, -2.71, 3.38, 213],
    [F_CHI_PRE, F_CHI_POST, F_SIG_CHI, -2.56, 3.54, 217]
  ];
  var lefts = [91, 344, 593], widths = [199, 200, 199];
  sets.forEach(function (s, k) {
    var g = addGrid(lefts[k], 1578, widths[k], s[5], INK, 1.6);
    var xi = pushX(cAxis(g, CATS, {labels: true, tick: true, rot: 20, m: 21, fs: 17, pad: [0, 14, 0, 0]}));
    var yi = pushY(vAxis(g, s[3], s[4], {ticks: Z_TICKS, labels: true, fs: 12, m: 5}));
    series.push(boxSeries(xi, yi, s[0], '#2f78ab', '#3a3a3a', -0.2, 0.4, 1.6));
    series.push(boxSeries(xi, yi, s[1], '#e3832f', '#3a3a3a', 0.2, 0.4, 1.6));
    if (s[2].length) series.push(sigSeries(xi, yi, s[2]));
    txt(lefts[k] - 32, 1693, 'Z-score', 20, {rot: true, ff: FW});
  });
  txt(14, 1555, 'F', 26, {bold: true, ff: FA});
  [['SPN', 178], ['PV', 442], ['CHI', 692]].forEach(function (r) { txt(r[1], 1564, r[0], 26); });
  rectG(113, 1861, 656, 55, '#fff', '#d6d6d6', 2.5, 5);
  rectG(172, 1876, 57, 21, '#2f78ab', '#3a3a3a', 1.5);
  rectG(466, 1876, 57, 21, '#e3832f', '#3a3a3a', 1.5);
  txt(241, 1887, 'Pre speed onset', 29, {align: 'left'});
  txt(532, 1887, 'Post speed onset', 29, {align: 'left'});
})();

// ---------------- Panel G ----------------
(function () {
  var g = addGrid(951, 1603, 583, 198, INK, 1.6);
  var xi = pushX(cAxis(g, CELLS, {labels: true, tick: true, fs: 19, m: 10}));
  var yi = pushY(vAxis(g, -1.85, 2.28, {ticks: [-1, 0, 1, 2], labels: true, pos: 'left'}));
  pushY(vAxis(g, -1.85, 2.28, {ticks: [-1.5, -0.5, 0.5, 1.5], tl: 3, pos: 'left'}));
  series.push(boxSeries(xi, yi, G_HEALTHY, '#c6dfed', '#6b6b6b', -0.267, 0.267, 2));
  series.push(boxSeries(xi, yi, G_ACUTE, '#d88a76', '#6b6b6b', 0, 0.267, 2));
  series.push(boxSeries(xi, yi, G_CHRONIC, '#f6cdb9', '#6b6b6b', 0.267, 0.267, 2));
  series.push(annotSeries(xi, yi, G_STARS_ACUTE, 0, INK, 20));
  series.push(annotSeries(xi, yi, G_STARS_CHRONIC, 0.267, INK, 20));
  txt(839, 1555, 'G', 26, {bold: true, ff: FA});
  txt(1244, 1575, 'Speed onset', 38);
  txt(892, 1698, 'Δ Z-score', 21, {rot: true, ff: FW});
  rectG(970, 1859, 550, 57, '#fff', '#d6d6d6', 2.5, 5);
  rectG(985, 1877, 60, 23, '#c6dfed', '#6b6b6b', 2);
  rectG(1181, 1877, 60, 23, '#d88a76', '#6b6b6b', 2);
  rectG(1356, 1877, 60, 23, '#f6cdb9', '#6b6b6b', 2);
  txt(1057, 1888, 'Healthy', 30, {align: 'left'});
  txt(1254, 1888, 'Acute', 30, {align: 'left'});
  txt(1426, 1888, 'Chronic', 30, {align: 'left'});
})();

var chart = echarts.init(document.getElementById('fig'), null, {renderer: 'canvas'});
chart.setOption({
  animation: false,
  backgroundColor: '#fff',
  textStyle: {fontFamily: FA, color: INK},
  grid: grids,
  xAxis: xAxes,
  yAxis: yAxes,
  series: series,
  graphic: graphics
});
</script>
</body>
</html>
